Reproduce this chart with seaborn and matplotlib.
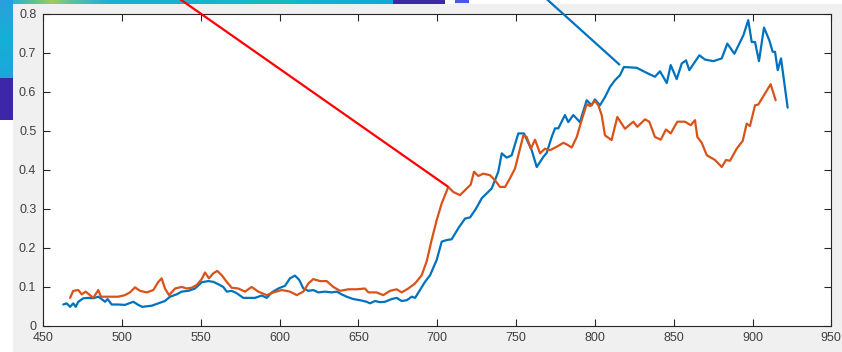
import numpy as np
import pandas as pd
import matplotlib
matplotlib.use("Agg")
import matplotlib.pyplot as plt
import seaborn as sns
from matplotlib.patches import Rectangle
from matplotlib.colors import LinearSegmentedColormap

# ---------------- data ----------------
blue_x = [462.7, 464.8, 467, 469, 470.6, 472.2, 475.4, 478.6, 481.7, 484.9, 487, 489.2, 490.8,
          493.4, 497.6, 501.8, 507.1, 510.3, 512.8, 518.8, 523, 527.2, 530.4, 534.6, 537.8, 542,
          546.3, 550.5, 554.7, 557.9, 561, 564.2, 566.4, 569.5, 572.7, 576.9, 580, 584.3, 588.6,
          591.8, 595, 599.1, 603.4, 606.5, 609.7, 612.4, 615, 618.2, 621.3, 624.5, 628.7, 633,
          636.2, 639.3, 642.5, 646.7, 651, 655.2, 657.3, 660.5, 663.6, 666.8, 671.1, 674.2, 677.4,
          680.6, 683.8, 685.9, 689, 692.2, 695.4, 699.6, 702.8, 706, 709.1, 713.3, 717.6, 720.8,
          724.5, 728.2, 731.5, 734.5, 738.7, 740.9, 744, 747.2, 751.4, 755, 759.9, 763.1, 767.3,
          769.4, 772.6, 774.7, 776.8, 781, 783.1, 786.3, 790.5, 794.8, 797.9, 800, 803.2, 806.4,
          809.6, 812.7, 815.9, 818.4, 826.5, 832.9, 838.1, 841.3, 845.6, 848.1, 851.9, 855.1,
          857.8, 859.9, 866.3, 869.9, 875.1, 880.5, 884, 888.5, 894.2, 897.3, 899.5, 901.6, 904.1,
          907.3, 910.7, 912.8, 914.3, 916, 918.1, 922.3]
blue_y = [0.055, 0.058, 0.049, 0.058, 0.049, 0.062, 0.071, 0.072, 0.071, 0.075, 0.069, 0.062, 0.069,
          0.055, 0.055, 0.054, 0.062, 0.054, 0.049, 0.052, 0.058, 0.064, 0.075, 0.081, 0.088, 0.090,
          0.096, 0.112, 0.115, 0.113, 0.107, 0.100, 0.088, 0.090, 0.084, 0.072, 0.072, 0.072, 0.078,
          0.072, 0.086, 0.096, 0.103, 0.122, 0.129, 0.118, 0.096, 0.090, 0.092, 0.086, 0.088, 0.086,
          0.088, 0.081, 0.075, 0.069, 0.066, 0.062, 0.058, 0.064, 0.061, 0.062, 0.069, 0.072, 0.064,
          0.066, 0.075, 0.072, 0.092, 0.113, 0.130, 0.169, 0.216, 0.220, 0.222, 0.250, 0.275, 0.278,
          0.300, 0.327, 0.340, 0.352, 0.395, 0.442, 0.431, 0.437, 0.493, 0.493, 0.450, 0.407, 0.433,
          0.443, 0.484, 0.506, 0.506, 0.540, 0.522, 0.540, 0.522, 0.578, 0.565, 0.580, 0.565, 0.586,
          0.612, 0.629, 0.642, 0.663, 0.661, 0.648, 0.638, 0.652, 0.622, 0.668, 0.632, 0.672,
          0.680, 0.655, 0.693, 0.682, 0.678, 0.685, 0.723, 0.697, 0.744, 0.783, 0.727, 0.727, 0.678,
          0.764, 0.731, 0.702, 0.702, 0.655, 0.685, 0.559]

orange_x = [467, 469, 472.2, 474.4, 476.9, 479.6, 481.7, 484.9, 486.6, 491.3, 497.6, 501.8, 505,
            508.2, 511.4, 515.6, 519.8, 523, 525.1, 527.2, 529.8, 533.6, 537.8, 541, 544.2, 547.3,
            550.5, 552.6, 555.1, 557.9, 560.4, 563.2, 566.4, 569.5, 573.7, 578, 582.2, 586.4, 591.8,
            596, 601.3, 606.5, 610.8, 615, 618.2, 621.3, 625.6, 629.8, 634, 638.3, 643.5, 648.9,
            654.1, 656.3, 661.5, 665.7, 670, 674.2, 677.4, 681.6, 685.9, 690.1, 693.3, 696.4, 699.6,
            702.8, 707, 710.2, 714.4, 718.7, 721.2, 723.3, 726, 729.2, 733.4, 736.6, 739.8, 743,
            746.1, 749.3, 751.4, 754.6, 756.7, 759.4, 762, 765.2, 768.3, 771.5, 775.8, 780, 782.1,
            785.3, 788.5, 791.6, 794.8, 796.9, 800.1, 802.2, 804.3, 806.4, 810.6, 814.2, 819.1,
            824.4, 826.9, 831.8, 834.5, 838.1, 841.8, 845.1, 848.1, 852.3, 857.2, 860.8, 863.5, 865,
            867.8, 871, 876.2, 880.5, 883.2, 885.7, 890, 893.8, 896.3, 898.4, 901.6, 903.7, 907.9,
            911.5, 914.7]
orange_y = [0.072, 0.090, 0.092, 0.081, 0.088, 0.079, 0.072, 0.092, 0.075, 0.075, 0.075, 0.079, 0.086,
            0.099, 0.090, 0.086, 0.092, 0.113, 0.122, 0.096, 0.079, 0.096, 0.100, 0.096, 0.098, 0.105,
            0.120, 0.137, 0.122, 0.135, 0.141, 0.130, 0.113, 0.098, 0.096, 0.088, 0.100, 0.088, 0.079,
            0.086, 0.092, 0.088, 0.079, 0.088, 0.109, 0.120, 0.115, 0.115, 0.100, 0.090, 0.094, 0.094,
            0.096, 0.086, 0.086, 0.079, 0.090, 0.094, 0.086, 0.096, 0.109, 0.130, 0.166, 0.220, 0.271,
            0.314, 0.356, 0.343, 0.335, 0.352, 0.362, 0.395, 0.384, 0.390, 0.386, 0.373, 0.356, 0.356,
            0.378, 0.403, 0.437, 0.488, 0.484, 0.454, 0.477, 0.442, 0.454, 0.450, 0.459, 0.469, 0.465,
            0.457, 0.484, 0.527, 0.568, 0.563, 0.576, 0.565, 0.540, 0.488, 0.476, 0.535, 0.505,
            0.523, 0.510, 0.529, 0.523, 0.484, 0.477, 0.503, 0.493, 0.523, 0.523, 0.514, 0.527, 0.484,
            0.469, 0.437, 0.425, 0.407, 0.425, 0.423, 0.454, 0.474, 0.518, 0.512, 0.565, 0.567, 0.595,
            0.619, 0.578]

# annotation lines (start point on curve, end point off the top of the figure)
red_ann_x = [707.0, 525.0]
red_ann_y = [0.356, 0.870]
blue_ann_x = [815.9, 760.3]
blue_ann_y = [0.668, 0.870]

x_ticks = [450, 500, 550, 600, 650, 700, 750, 800, 850, 900, 950]
y_ticks = [0, 0.1, 0.2, 0.3, 0.4, 0.5, 0.6, 0.7, 0.8]
y_tick_labels = ["0", "0.1", "0.2", "0.3", "0.4", "0.5", "0.6", "0.7", "0.8"]

# ---------------- style ----------------
sns.set_style("white")
plt.rcParams['font.family'] = ['Liberation Sans', 'DejaVu Sans']

W, H = 842, 352
fig = plt.figure(figsize=(W / 100, H / 100), dpi=100)
fig.patch.set_facecolor("#f0f0f0")

def fr(px, py, w, h):
    return [px / W, 1 - (py + h) / H, w / W, h / H]

# screenshot-like fragments around the figure
def frect(px, py, w, h, color):
    x0, y0, ww, hh = fr(px, py, w, h)
    fig.add_artist(Rectangle((x0, y0), ww, hh, transform=fig.transFigure,
                             facecolor=color, edgecolor="none", zorder=0))

frect(470, 0, W - 470, 4, "white")
frect(0, 120, 13, H - 120, "white")
frect(393, 0, 52, 4, "#3b2aa3")
frect(445, 0, 10, 4, "white")
frect(455, 0, 14, 3, "#4a56e6")
frect(469, 0, 8, 4, "white")

strip_cmap = LinearSegmentedColormap.from_list(
    "strip", [(0.0, "#2fb4cc"), (0.05, "#5cc292"), (0.1, "#a6c958"), (0.15, "#5cc2a0"),
              (0.25, "#1eaed6"), (0.6, "#18b4cc"), (0.68, "#12c0b6"), (0.78, "#14b2d2"),
              (1.0, "#12a8da")])
sax = fig.add_axes(fr(13, 0, 380, 4))
sax.imshow(np.linspace(0, 1, 200)[None, :], aspect="auto", cmap=strip_cmap)
sax.set_axis_off()

lcmap = LinearSegmentedColormap.from_list("left", ["#2aa0dc", "#14b0d4", "#1ba6dc"])
lax = fig.add_axes(fr(0, 0, 13, 78))
lax.imshow(np.linspace(0, 1, 50)[:, None], aspect="auto", cmap=lcmap)
lax.set_axis_off()
frect(0, 78, 13, 42, "#3d26a8")

# ---------------- main axes ----------------
ax = fig.add_axes([43.3 / W, 1 - 326 / H, (831.3 - 43.3) / W, (326 - 13.5) / H])
ax.set_facecolor("white")

df_b = pd.DataFrame({"wl": blue_x, "val": blue_y})
df_o = pd.DataFrame({"wl": orange_x, "val": orange_y})
sns.lineplot(data=df_b, x="wl", y="val", ax=ax, color="#0072BD", linewidth=1.6, sort=False)
sns.lineplot(data=df_o, x="wl", y="val", ax=ax, color="#D95319", linewidth=1.6, sort=False)

ax.plot(red_ann_x, red_ann_y, color="#FF0000", linewidth=1.6, clip_on=False, zorder=10,
        solid_capstyle="butt")
ax.plot(blue_ann_x, blue_ann_y, color="#0072BD", linewidth=1.6, clip_on=False, zorder=10,
        solid_capstyle="butt")

ax.set_xlim(450, 950)
ax.set_ylim(0, 0.8)
ax.set_xticks(x_ticks)
ax.set_yticks(y_ticks)
ax.set_yticklabels(y_tick_labels)
ax.set_xlabel("")
ax.set_ylabel("")
for s in ax.spines.values():
    s.set_visible(True)
    s.set_color("#262626")
    s.set_linewidth(0.8)
ax.tick_params(direction="in", length=5, width=0.8, color="#262626", labelcolor="#404040",
               labelsize=9, top=True, right=True, bottom=True, left=True)
ax.tick_params(axis="x", pad=4.5)
ax.tick_params(axis="y", pad=5)

fig.savefig("out.png", dpi=100, facecolor=fig.get_facecolor())
